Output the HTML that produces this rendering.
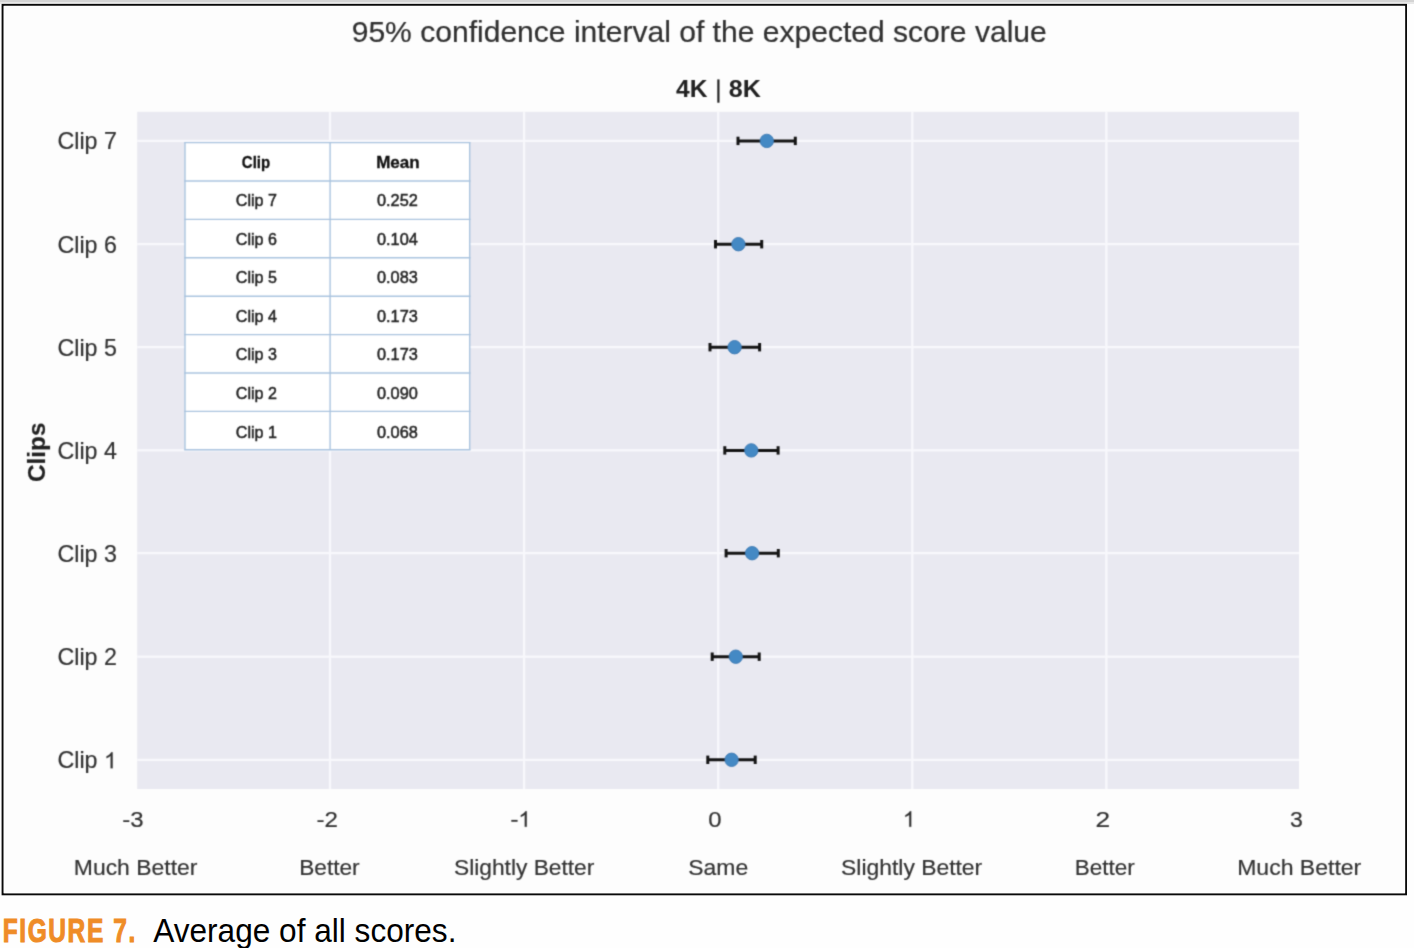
<!DOCTYPE html><html><head><meta charset="utf-8"><style>html,body{margin:0;padding:0;background:#fdfdfd;}body{width:1414px;height:948px;overflow:hidden;position:relative;}svg{position:absolute;left:0;top:0;display:block;}text{font-family:"Liberation Sans",sans-serif;} .f text{stroke:#333;stroke-width:0.2px;} .f text.tb{stroke:#262626;stroke-width:0.5px;fill:#262626;} .f text.nb{stroke:none;} .f text.th{stroke:#111;stroke-width:0.3px;}</style></head><body><svg width="1414" height="948" viewBox="0 0 1414 948"><defs><filter id="bl" filterUnits="userSpaceOnUse" x="0" y="0" width="1414" height="948" color-interpolation-filters="sRGB"><feConvolveMatrix order="3" kernelMatrix="1 4 1 4 16 4 1 4 1" divisor="36" edgeMode="duplicate"/></filter></defs><rect x="0" y="0" width="1414" height="948" fill="#fefefe"/><rect x="0" y="0" width="1414" height="2" fill="#d4d4d4"/><rect x="0" y="2" width="1414" height="2" fill="#e8e8e8"/><rect x="2.6" y="4.9" width="1403.4" height="889.4" fill="#fdfdfd" stroke="#0a0a0a" stroke-width="2"/><g filter="url(#bl)" class="f"><rect x="4" y="6" width="1401" height="887" fill="#fdfdfd"/><text transform="translate(351.68,41.8) scale(1.0155,1)" font-size="29.6" font-weight="normal" fill="#303030" text-anchor="start">95% confidence interval of the expected score value</text><text transform="translate(676.00,97.3) scale(1.0032,1)" font-size="24.5" font-weight="bold" fill="#222" text-anchor="start" class="nb">4K</text><text transform="translate(728.78,97.3) scale(1.0233,1)" font-size="24.5" font-weight="bold" fill="#222" text-anchor="start" class="nb">8K</text><rect x="717.3" y="79.4" width="2.2" height="23.3" fill="#222"/><rect x="137.2" y="111.8" width="1161.8" height="677.2" fill="#e9e9f1"/><line x1="330.00" y1="111.8" x2="330.00" y2="789" stroke="#f8f8fc" stroke-width="2.3"/><line x1="524.10" y1="111.8" x2="524.10" y2="789" stroke="#f8f8fc" stroke-width="2.3"/><line x1="718.20" y1="111.8" x2="718.20" y2="789" stroke="#f8f8fc" stroke-width="2.3"/><line x1="912.30" y1="111.8" x2="912.30" y2="789" stroke="#f8f8fc" stroke-width="2.3"/><line x1="1106.40" y1="111.8" x2="1106.40" y2="789" stroke="#f8f8fc" stroke-width="2.3"/><line x1="137.2" y1="140.9" x2="1299.0" y2="140.9" stroke="#f8f8fc" stroke-width="2.3"/><line x1="137.2" y1="244.2" x2="1299.0" y2="244.2" stroke="#f8f8fc" stroke-width="2.3"/><line x1="137.2" y1="347.2" x2="1299.0" y2="347.2" stroke="#f8f8fc" stroke-width="2.3"/><line x1="137.2" y1="450.4" x2="1299.0" y2="450.4" stroke="#f8f8fc" stroke-width="2.3"/><line x1="137.2" y1="553.2" x2="1299.0" y2="553.2" stroke="#f8f8fc" stroke-width="2.3"/><line x1="137.2" y1="656.7" x2="1299.0" y2="656.7" stroke="#f8f8fc" stroke-width="2.3"/><line x1="137.2" y1="759.8" x2="1299.0" y2="759.8" stroke="#f8f8fc" stroke-width="2.3"/><rect x="185" y="142.6" width="284.7" height="307.2" fill="#ffffff"/><line x1="184.2" y1="142.60" x2="470.5" y2="142.60" stroke="#aac4df" stroke-width="1.4"/><line x1="184.2" y1="181.00" x2="470.5" y2="181.00" stroke="#aac4df" stroke-width="1.4"/><line x1="184.2" y1="219.40" x2="470.5" y2="219.40" stroke="#aac4df" stroke-width="1.4"/><line x1="184.2" y1="257.80" x2="470.5" y2="257.80" stroke="#aac4df" stroke-width="1.4"/><line x1="184.2" y1="296.20" x2="470.5" y2="296.20" stroke="#aac4df" stroke-width="1.4"/><line x1="184.2" y1="334.60" x2="470.5" y2="334.60" stroke="#aac4df" stroke-width="1.4"/><line x1="184.2" y1="373.00" x2="470.5" y2="373.00" stroke="#aac4df" stroke-width="1.4"/><line x1="184.2" y1="411.40" x2="470.5" y2="411.40" stroke="#aac4df" stroke-width="1.4"/><line x1="184.2" y1="449.80" x2="470.5" y2="449.80" stroke="#aac4df" stroke-width="1.4"/><line x1="185" y1="142.6" x2="185" y2="449.79999999999995" stroke="#aac4df" stroke-width="1.4"/><line x1="330.1" y1="142.6" x2="330.1" y2="449.79999999999995" stroke="#aac4df" stroke-width="1.4"/><line x1="469.7" y1="142.6" x2="469.7" y2="449.79999999999995" stroke="#aac4df" stroke-width="1.4"/><text transform="translate(241.86,167.6) scale(0.9379,1)" font-size="16" font-weight="bold" fill="#111" text-anchor="start" class="th">Clip</text><text transform="translate(376.13,167.6) scale(1.0667,1)" font-size="16" font-weight="bold" fill="#111" text-anchor="start" class="th">Mean</text><text transform="translate(235.83,206.2) scale(0.9750,1)" font-size="16.5" font-weight="normal" fill="#222" text-anchor="start" class="tb">Clip 7</text><text transform="translate(377.01,206.2) scale(0.9897,1)" font-size="16.5" font-weight="normal" fill="#222" text-anchor="start" class="tb">0.252</text><text transform="translate(235.83,244.75) scale(0.9750,1)" font-size="16.5" font-weight="normal" fill="#222" text-anchor="start" class="tb">Clip 6</text><text transform="translate(377.01,244.75) scale(0.9897,1)" font-size="16.5" font-weight="normal" fill="#222" text-anchor="start" class="tb">0.104</text><text transform="translate(235.83,283.3) scale(0.9750,1)" font-size="16.5" font-weight="normal" fill="#222" text-anchor="start" class="tb">Clip 5</text><text transform="translate(377.01,283.3) scale(0.9897,1)" font-size="16.5" font-weight="normal" fill="#222" text-anchor="start" class="tb">0.083</text><text transform="translate(235.83,321.85) scale(0.9750,1)" font-size="16.5" font-weight="normal" fill="#222" text-anchor="start" class="tb">Clip 4</text><text transform="translate(377.01,321.85) scale(0.9897,1)" font-size="16.5" font-weight="normal" fill="#222" text-anchor="start" class="tb">0.173</text><text transform="translate(235.83,360.4) scale(0.9750,1)" font-size="16.5" font-weight="normal" fill="#222" text-anchor="start" class="tb">Clip 3</text><text transform="translate(377.01,360.4) scale(0.9897,1)" font-size="16.5" font-weight="normal" fill="#222" text-anchor="start" class="tb">0.173</text><text transform="translate(235.83,398.95) scale(0.9750,1)" font-size="16.5" font-weight="normal" fill="#222" text-anchor="start" class="tb">Clip 2</text><text transform="translate(377.01,398.95) scale(0.9897,1)" font-size="16.5" font-weight="normal" fill="#222" text-anchor="start" class="tb">0.090</text><text transform="translate(235.83,437.5) scale(0.9750,1)" font-size="16.5" font-weight="normal" fill="#222" text-anchor="start" class="tb">Clip 1</text><text transform="translate(377.01,437.5) scale(0.9897,1)" font-size="16.5" font-weight="normal" fill="#222" text-anchor="start" class="tb">0.068</text><line x1="738" y1="140.9" x2="795.3" y2="140.9" stroke="#141414" stroke-width="3"/><line x1="738" y1="136.70000000000002" x2="738" y2="145.1" stroke="#141414" stroke-width="3"/><line x1="795.3" y1="136.70000000000002" x2="795.3" y2="145.1" stroke="#141414" stroke-width="3"/><circle cx="766.8" cy="140.9" r="6.7" fill="#4489c4" stroke="#3b78b2" stroke-width="0.9"/><line x1="715.5" y1="244.2" x2="761.7" y2="244.2" stroke="#141414" stroke-width="3"/><line x1="715.5" y1="240.0" x2="715.5" y2="248.39999999999998" stroke="#141414" stroke-width="3"/><line x1="761.7" y1="240.0" x2="761.7" y2="248.39999999999998" stroke="#141414" stroke-width="3"/><circle cx="738.4" cy="244.2" r="6.7" fill="#4489c4" stroke="#3b78b2" stroke-width="0.9"/><line x1="710" y1="347.2" x2="759.6" y2="347.2" stroke="#141414" stroke-width="3"/><line x1="710" y1="343.0" x2="710" y2="351.4" stroke="#141414" stroke-width="3"/><line x1="759.6" y1="343.0" x2="759.6" y2="351.4" stroke="#141414" stroke-width="3"/><circle cx="734.6" cy="347.2" r="6.7" fill="#4489c4" stroke="#3b78b2" stroke-width="0.9"/><line x1="724.8" y1="450.4" x2="778.1" y2="450.4" stroke="#141414" stroke-width="3"/><line x1="724.8" y1="446.2" x2="724.8" y2="454.59999999999997" stroke="#141414" stroke-width="3"/><line x1="778.1" y1="446.2" x2="778.1" y2="454.59999999999997" stroke="#141414" stroke-width="3"/><circle cx="751.3" cy="450.4" r="6.7" fill="#4489c4" stroke="#3b78b2" stroke-width="0.9"/><line x1="726.1" y1="553.2" x2="778.3" y2="553.2" stroke="#141414" stroke-width="3"/><line x1="726.1" y1="549.0" x2="726.1" y2="557.4000000000001" stroke="#141414" stroke-width="3"/><line x1="778.3" y1="549.0" x2="778.3" y2="557.4000000000001" stroke="#141414" stroke-width="3"/><circle cx="752.1" cy="553.2" r="6.7" fill="#4489c4" stroke="#3b78b2" stroke-width="0.9"/><line x1="712.2" y1="656.7" x2="759.2" y2="656.7" stroke="#141414" stroke-width="3"/><line x1="712.2" y1="652.5" x2="712.2" y2="660.9000000000001" stroke="#141414" stroke-width="3"/><line x1="759.2" y1="652.5" x2="759.2" y2="660.9000000000001" stroke="#141414" stroke-width="3"/><circle cx="735.8" cy="656.7" r="6.7" fill="#4489c4" stroke="#3b78b2" stroke-width="0.9"/><line x1="707.8" y1="759.8" x2="755.2" y2="759.8" stroke="#141414" stroke-width="3"/><line x1="707.8" y1="755.5999999999999" x2="707.8" y2="764.0" stroke="#141414" stroke-width="3"/><line x1="755.2" y1="755.5999999999999" x2="755.2" y2="764.0" stroke="#141414" stroke-width="3"/><circle cx="731.6" cy="759.8" r="6.7" fill="#4489c4" stroke="#3b78b2" stroke-width="0.9"/><text transform="translate(116.90,149.4) scale(1.0018,1)" font-size="23.2" font-weight="normal" fill="#333" text-anchor="end">Clip 7</text><text transform="translate(116.90,252.7) scale(1.0018,1)" font-size="23.2" font-weight="normal" fill="#333" text-anchor="end">Clip 6</text><text transform="translate(116.90,355.7) scale(1.0018,1)" font-size="23.2" font-weight="normal" fill="#333" text-anchor="end">Clip 5</text><text transform="translate(116.90,458.9) scale(1.0018,1)" font-size="23.2" font-weight="normal" fill="#333" text-anchor="end">Clip 4</text><text transform="translate(116.90,561.7) scale(1.0018,1)" font-size="23.2" font-weight="normal" fill="#333" text-anchor="end">Clip 3</text><text transform="translate(116.90,665.2) scale(1.0018,1)" font-size="23.2" font-weight="normal" fill="#333" text-anchor="end">Clip 2</text><text transform="translate(57.50,768.3) scale(1.0018,1)" font-size="23.2" font-weight="normal" fill="#333" text-anchor="start">Clip</text><path transform="translate(103.99,768.3) scale(0.01135,-0.01133)" d="M763 0L583 0L583 1100Q518 1042 412 983Q306 924 223 894L223 1061Q372 1128 484 1224Q596 1320 643 1409L763 1409Z" fill="#333" stroke="#333" stroke-width="0.2" vector-effect="non-scaling-stroke"/><text transform="translate(45.1,481.98) rotate(-90) scale(0.9847,1)" font-size="24.7" font-weight="bold" fill="#222">Clips</text><text transform="translate(122.33,826.8) scale(1.0667,1)" font-size="22.5" font-weight="normal" fill="#333" text-anchor="start">-3</text><text transform="translate(316.43,826.8) scale(1.0722,1)" font-size="22.5" font-weight="normal" fill="#333" text-anchor="start">-2</text><rect x="511.3" y="819.9" width="6.3" height="1.85" fill="#333"/><path transform="translate(518.35,826.8) scale(0.01099,-0.01099)" d="M763 0L583 0L583 1100Q518 1042 412 983Q306 924 223 894L223 1061Q372 1128 484 1224Q596 1320 643 1409L763 1409Z" fill="#333" stroke="#333" stroke-width="0.2" vector-effect="non-scaling-stroke"/><text transform="translate(708.14,826.8) scale(1.0636,1)" font-size="22.5" font-weight="normal" fill="#333" text-anchor="start">0</text><path transform="translate(902.85,826.8) scale(0.01099,-0.01099)" d="M763 0L583 0L583 1100Q518 1042 412 983Q306 924 223 894L223 1061Q372 1128 484 1224Q596 1320 643 1409L763 1409Z" fill="#333" stroke="#333" stroke-width="0.2" vector-effect="non-scaling-stroke"/><text transform="translate(1095.43,826.8) scale(1.1700,1)" font-size="22.5" font-weight="normal" fill="#333" text-anchor="start">2</text><text transform="translate(1290.07,826.8) scale(1.0273,1)" font-size="22.5" font-weight="normal" fill="#333" text-anchor="start">3</text><text transform="translate(73.79,874.7) scale(1.0058,1)" font-size="22.8" font-weight="normal" fill="#333" text-anchor="start">Much Better</text><text transform="translate(299.21,874.7) scale(0.9932,1)" font-size="22.8" font-weight="normal" fill="#333" text-anchor="start">Better</text><text transform="translate(454.00,874.7) scale(0.9986,1)" font-size="22.8" font-weight="normal" fill="#333" text-anchor="start">Slightly Better</text><text transform="translate(688.29,874.7) scale(1.0053,1)" font-size="22.8" font-weight="normal" fill="#333" text-anchor="start">Same</text><text transform="translate(841.10,874.7) scale(1.0036,1)" font-size="22.8" font-weight="normal" fill="#333" text-anchor="start">Slightly Better</text><text transform="translate(1074.83,874.7) scale(0.9864,1)" font-size="22.8" font-weight="normal" fill="#333" text-anchor="start">Better</text><text transform="translate(1237.18,874.7) scale(1.0099,1)" font-size="22.8" font-weight="normal" fill="#333" text-anchor="start">Much Better</text></g></svg><svg width="1414" height="948" style="position:absolute;left:0;top:0"><text transform="translate(2.76,942.1) scale(0.7206,1)" font-size="34" font-weight="bold" fill="#ef8c27" stroke="#ef8c27" stroke-width="1.1" letter-spacing="2.2" style="font-family:Liberation Sans">FIGURE 7.</text><text transform="translate(153.20,941.9) scale(0.9722,1)" font-size="32.5" fill="#000" style="font-family:Liberation Sans">Average of all scores.</text></svg></body></html>
